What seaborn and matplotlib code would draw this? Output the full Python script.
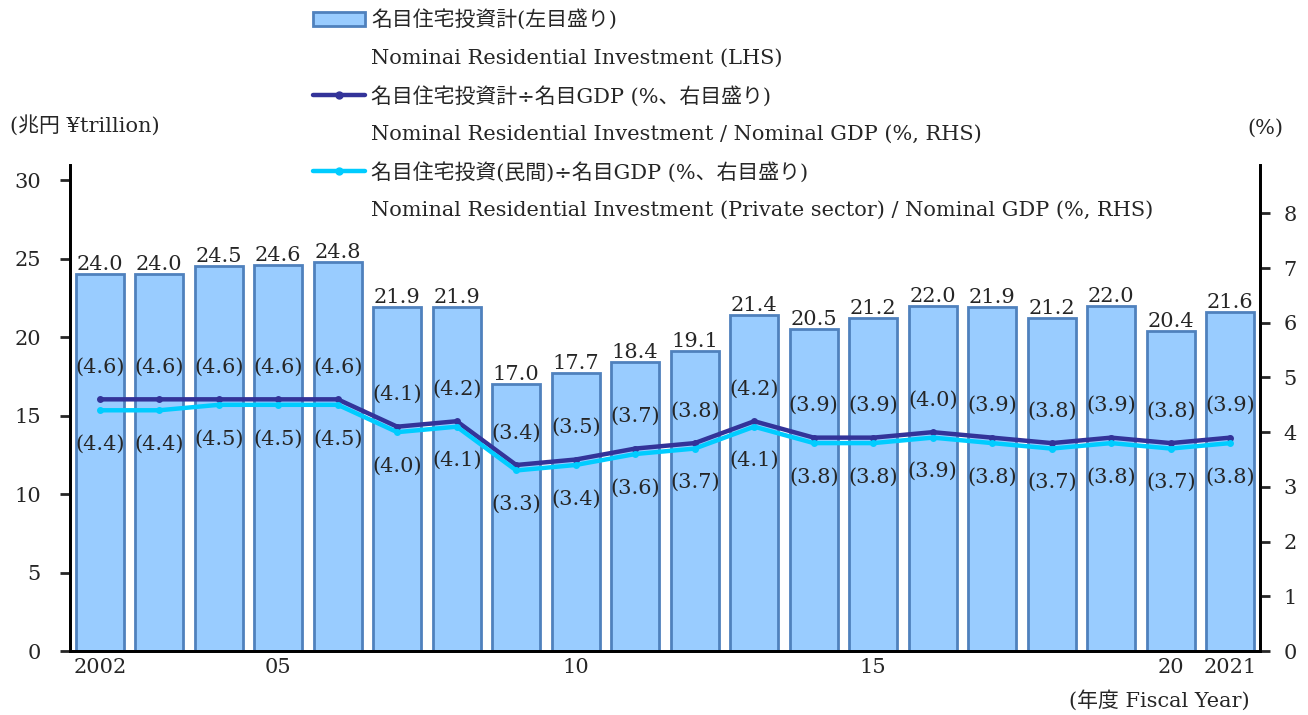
import matplotlib
matplotlib.use('Agg')
import matplotlib.pyplot as plt
from matplotlib.lines import Line2D
from matplotlib.patches import Patch
import seaborn as sns

sns.set_style('ticks')
plt.rcParams['font.family'] = ['DejaVu Serif', 'Noto Sans CJK JP']

# Fiscal years 2002-2021
years = list(range(2002, 2022))
year_labels = ['2002', '', '', '05', '', '', '', '', '10', '', '', '', '', '15',
               '', '', '', '', '20', '2021']
# Nominal residential investment (trillion yen, LHS)
investment = [24.0, 24.0, 24.5, 24.6, 24.8, 21.9, 21.9, 17.0, 17.7, 18.4,
              19.1, 21.4, 20.5, 21.2, 22.0, 21.9, 21.2, 22.0, 20.4, 21.6]
# Residential investment / nominal GDP (%, RHS)
total_ratio = [4.6, 4.6, 4.6, 4.6, 4.6, 4.1, 4.2, 3.4, 3.5, 3.7,
               3.8, 4.2, 3.9, 3.9, 4.0, 3.9, 3.8, 3.9, 3.8, 3.9]
# Private residential investment / nominal GDP (%, RHS)
private_ratio = [4.4, 4.4, 4.5, 4.5, 4.5, 4.0, 4.1, 3.3, 3.4, 3.6,
                 3.7, 4.1, 3.8, 3.8, 3.9, 3.8, 3.7, 3.8, 3.7, 3.8]

BAR_FACE = '#99CCFF'
BAR_EDGE = '#4F81BD'
NAVY = '#333399'
CYAN = '#00CCFF'
FS = 15

pos = list(range(len(years)))

fig = plt.figure(figsize=(13.08, 7.15), dpi=100)
ax = fig.add_axes([0.0535, 0.0895, 0.9098, 0.6795])

sns.barplot(x=pos, y=investment, ax=ax, color=BAR_FACE, saturation=1,
            width=0.8, edgecolor=BAR_EDGE, linewidth=2)
ax.bar_label(ax.containers[0], fmt='%.1f', padding=0, fontsize=FS)

ax2 = ax.twinx()
sns.lineplot(x=pos, y=total_ratio, ax=ax2, color=NAVY, linewidth=3.2,
             marker='o', markersize=5, markeredgewidth=0)
sns.lineplot(x=pos, y=private_ratio, ax=ax2, color=CYAN, linewidth=3.2,
             marker='o', markersize=5, markeredgewidth=0)

for i, v in enumerate(total_ratio):
    ax2.annotate(f'({v:.1f})', (i, v), xytext=(0, 23), textcoords='offset points',
                 ha='center', va='center', fontsize=FS)
for i, v in enumerate(private_ratio):
    ax2.annotate(f'({v:.1f})', (i, v), xytext=(0, -24.5), textcoords='offset points',
                 ha='center', va='center', fontsize=FS)

ax.set_xlim(-0.5, 19.5)
ax.set_ylim(0, 30.95)
ax2.set_ylim(0, 8.88)
ax.set_yticks(range(0, 31, 5))
ax2.set_yticks(range(0, 9))
ax.set_xticks(pos)
ax.set_xticklabels(year_labels)
ax.set_xlabel('')
ax.set_ylabel('')
ax2.set_ylabel('')

for a in (ax, ax2):
    a.spines['top'].set_visible(False)
    for s in a.spines.values():
        s.set_linewidth(2)
        s.set_color('black')
ax.tick_params(axis='y', length=7, width=2, labelsize=FS, pad=14)
ax2.tick_params(axis='y', length=7, width=2, labelsize=FS, pad=10)
ax.tick_params(axis='x', length=0, labelsize=FS, pad=5)

fig.text(10 / 1308, 0.825, '(兆円 ¥trillion)', fontsize=FS, va='center', ha='left')
fig.text(1283 / 1308, 0.821, '(%)', fontsize=FS, va='center', ha='right')
fig.text(1250 / 1308, 0.021, '(年度 Fiscal Year)', fontsize=FS, va='center', ha='right')

blank = Line2D([], [], linestyle='none')
handles = [
    Patch(facecolor=BAR_FACE, edgecolor=BAR_EDGE, linewidth=2), blank,
    Line2D([], [], color=NAVY, linewidth=3.2, marker='o', markersize=5), blank,
    Line2D([], [], color=CYAN, linewidth=3.2, marker='o', markersize=5), blank,
]
labels = [
    '名目住宅投資計(左目盛り)',
    'Nominai Residential Investment (LHS)',
    '名目住宅投資計÷名目GDP (%、右目盛り)',
    'Nominal Residential Investment / Nominal GDP (%, RHS)',
    '名目住宅投資(民間)÷名目GDP (%、右目盛り)',
    'Nominal Residential Investment (Private sector) / Nominal GDP (%, RHS)',
]
fig.legend(handles, labels, loc='upper left', bbox_to_anchor=(313 / 1308, 0.987),
           frameon=False, fontsize=FS, handlelength=2.5, handletextpad=0.3,
           labelspacing=0.87, borderpad=0, borderaxespad=0)

fig.savefig('out.png', dpi=100)
